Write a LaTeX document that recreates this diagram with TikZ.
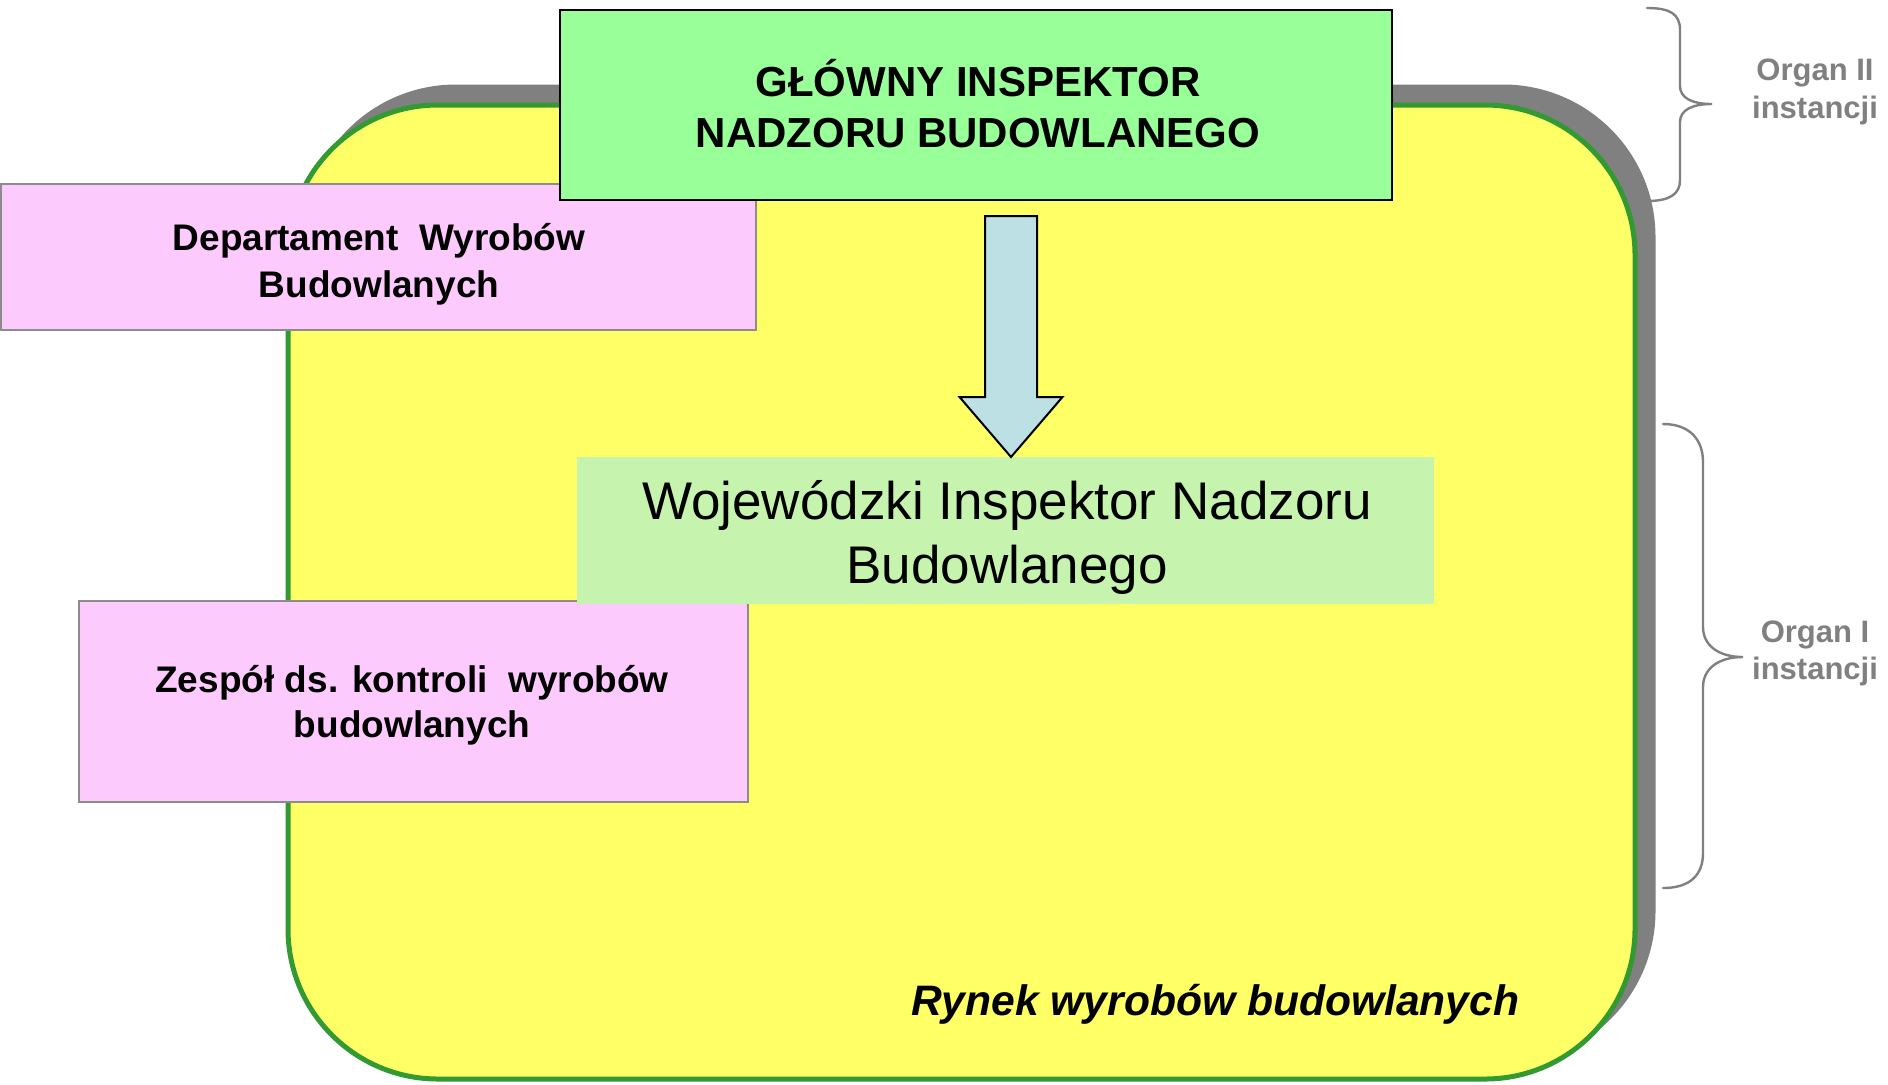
\documentclass[tikz,border=0pt]{standalone}
\usepackage{fontspec}
\setmainfont{Liberation Sans}
\usetikzlibrary{calc}

\definecolor{mkyellow}{HTML}{FFFF66}
\definecolor{mkgreen}{HTML}{339933}
\definecolor{shgrey}{HTML}{808080}
\definecolor{gipgreen}{HTML}{99FF99}
\definecolor{pinkfill}{HTML}{FDCAFD}
\definecolor{pinkedge}{HTML}{8C8C8C}
\definecolor{wingreen}{HTML}{C6F4AE}
\definecolor{arrowblue}{HTML}{BCE0E4}

\tikzset{
  market/.style={fill=mkyellow, draw=mkgreen, line width=2.5pt, rounded corners=75pt},
  marketshadow/.style={fill=shgrey, draw=shgrey, line width=2.5pt, rounded corners=75pt},
  gipbox/.style={draw=black, fill=gipgreen, line width=1.3pt, inner sep=0, outer sep=0},
  deptbox/.style={draw=pinkedge, fill=pinkfill, line width=1pt, inner sep=0, outer sep=0},
  winbox/.style={fill=wingreen, inner sep=0, outer sep=0},
  blockarrow/.style={draw=black, fill=arrowblue, line width=1pt, line join=miter},
  lines/.style={inner sep=0, outer sep=0, anchor=base},
  organlabel/.style={lines, text=shgrey},
  bracepath/.style={draw=shgrey, line width=1.2pt, line cap=round},
}

\begin{document}
\begin{tikzpicture}[x=0.5pt, y=-0.5pt]
\useasboundingbox (0,0) rectangle (1888,1084);

% market area with its drop shadow
\path[marketshadow] (306,87) rectangle (1653,1061);
\path[market] (288,105) rectangle (1635,1079);

% department boxes
\node[deptbox, minimum width=377.5pt, minimum height=73pt] (dept) at (378.5,257) {};
\node[deptbox, minimum width=334.5pt, minimum height=100.5pt] (team) at (413.5,701.5) {};

% regional inspector
\node[winbox, minimum width=428.5pt, minimum height=73.5pt] (woj) at (1005.5,530.5) {};

% chief inspector
\node[gipbox, minimum width=416pt, minimum height=95pt] (gl) at (976,105) {};

% block arrow from the chief to the regional inspector
\coordinate (tip) at ($(woj.north)+(5.5,0)$);
\coordinate (tail) at ($(gl.south -| tip)+(0,16)$);
\draw[blockarrow] ($(tail)+(-26,0)$) -- ($(tail)+(26,0)$) -- ($(tip)+(26,-60)$)
  -- ($(tip)+(51.5,-60)$) -- (tip) -- ($(tip)+(-51.5,-60)$) -- ($(tip)+(-26,-60)$) -- cycle;

% texts
\node[lines] (gltext) at (978,96)
  {\parbox[t]{400pt}{\centering\fontsize{21pt}{25.5pt}\selectfont\bfseries
   GŁÓWNY INSPEKTOR\\NADZORU BUDOWLANEGO}};
\node[lines] (depttext) at (379,250)
  {\parbox[t]{360pt}{\centering\fontsize{18.5pt}{23.5pt}\selectfont\bfseries
   Departament~~Wyrobów\\Budowlanych}};
\node[lines] (teamtext) at (412,692)
  {\parbox[t]{320pt}{\centering\fontsize{18.5pt}{22.5pt}\selectfont\bfseries
   Zespół ds. kontroli~~wyrobów\\budowlanych}};
\node[lines] (wojtext) at (1007,519)
  {\parbox[t]{420pt}{\centering\fontsize{26.5pt}{32pt}\selectfont
   Wojewódzki Inspektor Nadzoru\\Budowlanego}};
\node[inner sep=0, outer sep=0, anchor=base west] (market) at (911,1015)
  {\fontsize{21.3pt}{25pt}\selectfont\bfseries\itshape Rynek wyrobów budowlanych};

% braces with the instance labels
\draw[bracepath] (1647,8) .. controls (1670,8) and (1680,14) .. (1680,30)
  -- (1680,86) .. controls (1680,98) and (1692,104) .. (1712,104)
  .. controls (1692,104) and (1680,110) .. (1680,122)
  -- (1680,180) .. controls (1680,194) and (1670,201) .. (1647,201);
\draw[bracepath] (1663,424) .. controls (1690,424) and (1703,440) .. (1703,462)
  -- (1703,627) .. controls (1703,645) and (1718,657) .. (1743,657)
  .. controls (1718,657) and (1703,669) .. (1703,687)
  -- (1703,853) .. controls (1703,875) and (1690,888) .. (1663,888);

\node[organlabel] (organ2) at (1815,80)
  {\parbox[t]{150pt}{\centering\fontsize{15.5pt}{19pt}\selectfont\bfseries
   Organ II\\instancji}};
\node[organlabel] (organ1) at (1815,642)
  {\parbox[t]{150pt}{\centering\fontsize{15.5pt}{18.5pt}\selectfont\bfseries
   Organ I\\instancji}};
\end{tikzpicture}
\end{document}
